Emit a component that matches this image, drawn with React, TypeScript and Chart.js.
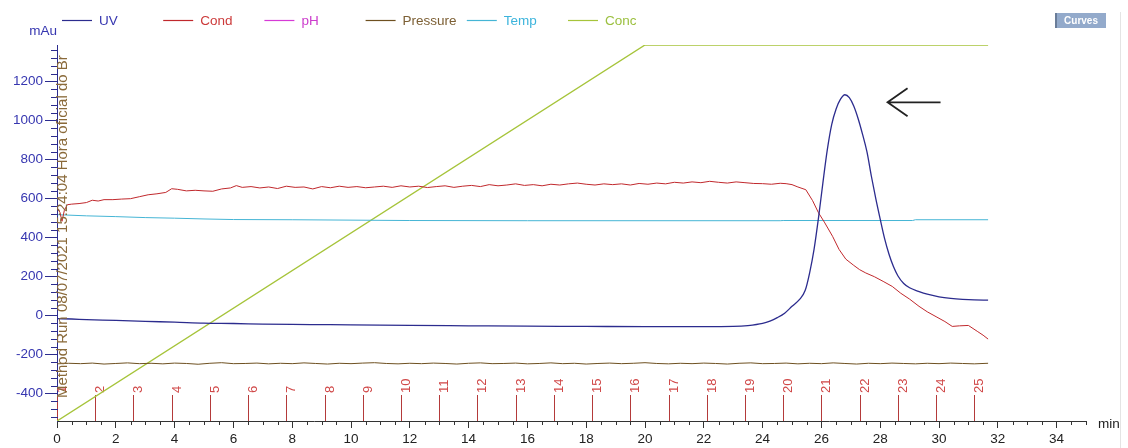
import React, { useEffect, useRef } from 'react';
import { Chart, registerables } from 'chart.js';

Chart.register(...registerables);

const FONT = "'Liberation Sans', Arial, sans-serif";

// ---- data (time in min, value in mAu-scale units) ----
const uvPoints: [number, number][] = [
  [0, -15], [0.5, -17], [1, -20], [2, -24], [3, -29], [4, -33], [5, -38], [6, -40],
  [7, -43], [8, -45], [9, -46], [10, -47], [12, -50], [14, -52], [16, -54], [18, -55],
  [20, -56], [22, -56], [23, -55], [23.5, -51], [24, -40], [24.25, -28], [24.5, -10],
  [24.75, 13], [25.0, 48], [25.25, 82], [25.45, 130], [25.6, 220], [25.75, 340],
  [25.9, 500], [26.05, 680], [26.2, 850], [26.35, 980], [26.5, 1060], [26.65, 1110],
  [26.8, 1133], [26.95, 1118], [27.1, 1075], [27.25, 1010], [27.4, 930], [27.55, 840],
  [27.7, 715], [27.85, 600], [28.0, 495], [28.15, 395], [28.3, 315], [28.45, 252],
  [28.6, 205], [28.8, 165], [29.0, 143], [29.3, 125], [29.6, 110], [30.0, 97],
  [30.4, 89], [30.8, 84], [31.2, 81], [31.67, 80],
];

const condPoints: [number, number][] = [
  [0, 554], [0.1, 530], [0.17, 484], [0.25, 540], [0.35, 569], [0.5, 572], [0.75, 575],
  [1.0, 580], [1.2, 592], [1.4, 588], [1.6, 595], [1.9, 595], [2.2, 598], [2.5, 600],
  [2.8, 610], [3.1, 620], [3.4, 625], [3.7, 632], [3.9, 651], [4.1, 648], [4.4, 640],
  [4.7, 643], [5.0, 640], [5.3, 638], [5.6, 650], [5.9, 655], [6.1, 667], [6.3, 658],
  [6.6, 662], [6.9, 655], [7.2, 660], [7.5, 652], [7.8, 664], [8.1, 658], [8.4, 660],
  [8.7, 650], [9.0, 662], [9.3, 656], [9.6, 664], [9.9, 658], [10.2, 662], [10.5, 656],
  [10.8, 660], [11.1, 664], [11.4, 658], [11.7, 666], [12.0, 660], [12.3, 664],
  [12.6, 657], [12.9, 662], [13.2, 666], [13.5, 658], [13.8, 664], [14.1, 668],
  [14.4, 662], [14.7, 672], [15.0, 666], [15.3, 670], [15.6, 676], [15.9, 668],
  [16.2, 672], [16.5, 666], [16.8, 674], [17.1, 670], [17.4, 676], [17.7, 680],
  [18.0, 674], [18.3, 670], [18.6, 676], [18.9, 672], [19.2, 676], [19.5, 670],
  [19.8, 678], [20.1, 674], [20.4, 680], [20.7, 676], [21.0, 684], [21.3, 680],
  [21.6, 686], [21.9, 682], [22.2, 689], [22.5, 684], [22.8, 680], [23.1, 686],
  [23.4, 682], [23.7, 678], [24.0, 677], [24.3, 674], [24.6, 679], [24.8, 677],
  [25.0, 672], [25.2, 660], [25.47, 646], [25.7, 590], [25.9, 528], [26.1, 480],
  [26.38, 407], [26.6, 340], [26.83, 290], [27.1, 258], [27.3, 236], [27.51, 219],
  [27.8, 200], [28.1, 176], [28.41, 150], [28.7, 115], [29.0, 85], [29.32, 48],
  [29.6, 20], [29.9, -5], [30.2, -30], [30.45, -55], [30.7, -52], [31.0, -50],
  [31.3, -80], [31.5, -100], [31.67, -120],
];

const phPoints: [number, number][] = [];

const pressurePoints: [number, number][] = [
  [0, -247], [0.4, -244], [0.8, -246], [1.2, -243], [1.6, -248], [2, -245], [2.4, -242],
  [2.8, -246], [3.2, -244], [3.6, -247], [4, -243], [4.4, -245], [4.8, -249], [5.2, -244],
  [5.6, -241], [6, -246], [6.4, -245], [6.8, -243], [7.2, -247], [7.6, -244], [8, -246],
  [8.4, -242], [8.8, -245], [9.2, -248], [9.6, -244], [10, -246], [10.4, -243], [10.8, -241],
  [11.2, -245], [11.6, -247], [12, -244], [12.4, -246], [12.8, -243], [13.2, -245],
  [13.6, -248], [14, -244], [14.4, -242], [14.8, -246], [15.2, -245], [15.6, -243],
  [16, -247], [16.4, -245], [16.8, -242], [17.2, -246], [17.6, -244], [18, -248],
  [18.4, -245], [18.8, -243], [19.2, -246], [19.6, -244], [20, -241], [20.4, -245],
  [20.8, -247], [21.2, -244], [21.6, -246], [22, -243], [22.4, -245], [22.8, -248],
  [23.2, -244], [23.6, -242], [24, -246], [24.4, -245], [24.8, -243], [25.2, -247],
  [25.6, -244], [26, -246], [26.4, -242], [26.8, -245], [27.2, -248], [27.6, -244],
  [28, -246], [28.4, -243], [28.8, -245], [29.2, -247], [29.6, -244], [30, -246],
  [30.4, -243], [30.8, -245], [31.2, -247], [31.67, -244],
];

const tempPoints: [number, number][] = [
  [0, 518], [1, 512], [2, 508], [3, 503], [4, 500], [5, 496], [6, 493], [8, 492],
  [10, 490], [12, 488], [16, 487], [20, 487], [24.6, 487], [24.7, 488], [29.1, 488],
  [29.2, 492], [31.67, 492],
];

// Conc in % (0-100) on its own hidden axis
const concPoints: [number, number][] = [[0, 0], [20, 100], [31.67, 100]];

const fractionTimes = [
  0, 1.3, 2.6, 3.9, 5.2, 6.5, 7.8, 9.1, 10.4, 11.7, 13.0, 14.3, 15.6, 16.9, 18.2,
  19.5, 20.8, 22.1, 23.4, 24.7, 26.0, 27.3, 28.6, 29.9, 31.2,
];
const fractionLabels = [
  '1', '2', '3', '4', '5', '6', '7', '8', '9', '10', '11', '12', '13', '14', '15',
  '16', '17', '18', '19', '20', '21', '22', '23', '24', '25',
];

const seriesNames = ['UV', 'Cond', 'pH', 'Pressure', 'Temp', 'Conc'];
const seriesColors = ['#2c2c8e', '#c0282c', '#d63ad6', '#6e5020', '#45b5d5', '#a6c43a'];
const legendTextColors = ['#3636b0', '#cc3a3a', '#cc3ccc', '#7d6035', '#3cb4dc', '#9cc040'];

const xRange = { min: 0, max: 35 };
const yRange = { min: -540, max: 1388 };
const arrowTip = { x: 28.25, y: 1094 };
const runText = 'Method Run 08/07/2021 15:24:04 Hora oficial do Br';

const toXY = (arr: [number, number][]) => arr.map(([x, y]) => ({ x, y }));

const decorPlugin = {
  id: 'decor',
  beforeDatasetsDraw(chart: any) {
    const { ctx, chartArea } = chart;
    const xs = chart.scales.x;
    ctx.save();
    ctx.font = `13px ${FONT}`;
    fractionTimes.forEach((t, i) => {
      const px = Math.round(xs.getPixelForValue(t)) + 0.5;
      ctx.strokeStyle = '#b43a3a';
      ctx.lineWidth = 1;
      ctx.beginPath();
      ctx.moveTo(px, chartArea.bottom);
      ctx.lineTo(px, chartArea.bottom - 26);
      ctx.stroke();
      ctx.save();
      ctx.translate(px + 5, chartArea.bottom - 28);
      ctx.rotate(-Math.PI / 2);
      ctx.textAlign = 'left';
      ctx.textBaseline = 'middle';
      ctx.fillStyle = '#d04848';
      ctx.fillText(fractionLabels[i], 0, 0);
      ctx.restore();
    });
    ctx.restore();
  },
  afterDraw(chart: any) {
    const { ctx, chartArea } = chart;
    const xs = chart.scales.x;
    const ys = chart.scales.y;
    ctx.save();

    // minor x ticks
    ctx.strokeStyle = '#333';
    ctx.lineWidth = 1;
    for (let v = xRange.min; v <= xRange.max + 1e-6; v += 0.5) {
      if (Math.abs(v / 2 - Math.round(v / 2)) < 1e-6) continue;
      const px = Math.round(xs.getPixelForValue(v)) + 0.5;
      ctx.beginPath();
      ctx.moveTo(px, chartArea.bottom);
      ctx.lineTo(px, chartArea.bottom + 4);
      ctx.stroke();
    }
    // minor y ticks
    ctx.strokeStyle = '#2c2c8e';
    for (let v = -520; v <= 1360; v += 40) {
      if (v % 200 === 0) continue;
      const py = Math.round(ys.getPixelForValue(v)) + 0.5;
      ctx.beginPath();
      ctx.moveTo(chartArea.left - 6, py);
      ctx.lineTo(chartArea.left + 1, py);
      ctx.stroke();
    }

    // legend
    const ds = chart.data.datasets;
    ctx.font = `13.5px ${FONT}`;
    ctx.textBaseline = 'middle';
    ctx.textAlign = 'left';
    ds.forEach((d: any, i: number) => {
      const lx = 62 + i * 101.2;
      const ly = 20.5;
      ctx.strokeStyle = d.borderColor;
      ctx.lineWidth = 1.2;
      ctx.beginPath();
      ctx.moveTo(lx, ly);
      ctx.lineTo(lx + 30, ly);
      ctx.stroke();
      ctx.fillStyle = legendTextColors[i];
      ctx.fillText(d.label, lx + 37, ly + 0.5);
    });

    // unit labels
    ctx.fillStyle = '#3636b0';
    ctx.textAlign = 'right';
    ctx.fillText('mAu', chartArea.left, 31);
    ctx.fillStyle = '#222';
    ctx.textAlign = 'left';
    ctx.fillText('min', chartArea.right + 12, chartArea.bottom + 3);

    // Curves button
    ctx.fillStyle = '#93aacb';
    ctx.fillRect(1055, 13, 51, 15);
    ctx.fillStyle = '#6a7d99';
    ctx.fillRect(1055, 13, 2, 15);
    ctx.fillStyle = '#ffffff';
    ctx.font = `bold 10px ${FONT}`;
    ctx.textAlign = 'center';
    ctx.fillText('Curves', 1081, 21);

    // faint panel edge
    ctx.strokeStyle = '#e4e4e4';
    ctx.lineWidth = 1;
    ctx.beginPath();
    ctx.moveTo(1120.5, 12);
    ctx.lineTo(1120.5, 448);
    ctx.stroke();

    // arrow pointing at peak
    const ax = xs.getPixelForValue(arrowTip.x);
    const ay = ys.getPixelForValue(arrowTip.y);
    ctx.strokeStyle = '#222';
    ctx.lineWidth = 1.8;
    ctx.beginPath();
    ctx.moveTo(ax + 53, ay);
    ctx.lineTo(ax, ay);
    ctx.moveTo(ax + 20, ay - 14);
    ctx.lineTo(ax, ay);
    ctx.lineTo(ax + 20, ay + 14);
    ctx.stroke();

    // rotated run text along the y axis
    ctx.save();
    ctx.beginPath();
    ctx.rect(0, 40, 1128, 408);
    ctx.clip();
    ctx.translate(chartArea.left + 10, chartArea.bottom - 23);
    ctx.rotate(-Math.PI / 2);
    ctx.font = `15px ${FONT}`;
    ctx.textAlign = 'left';
    ctx.textBaseline = 'alphabetic';
    ctx.fillStyle = '#8a6a3a';
    ctx.fillText(runText, 0, 0);
    ctx.restore();

    ctx.restore();
  },
};

export default function App() {
  const canvasRef = useRef<HTMLCanvasElement | null>(null);

  useEffect(() => {
    const canvas = canvasRef.current;
    if (!canvas) return;
    const seriesData = [uvPoints, condPoints, phPoints, pressurePoints, tempPoints, concPoints];
    const chart = new Chart(canvas, {
      type: 'line',
      data: {
        datasets: seriesNames.map((name, i) => ({
          label: name,
          data: toXY(seriesData[i]),
          borderColor: seriesColors[i],
          backgroundColor: seriesColors[i],
          borderWidth: name === 'Conc' ? 1.4 : name === 'UV' ? 1.3 : 1,
          pointRadius: 0,
          tension: 0,
          cubicInterpolationMode: name === 'UV' ? 'monotone' : 'default',
          yAxisID: name === 'Conc' ? 'y2' : 'y',
          fill: false,
        })),
      },
      options: {
        responsive: false,
        animation: false,
        devicePixelRatio: 1,
        parsing: true,
        layout: { padding: { top: 45, right: 42, left: 0, bottom: 0 } },
        plugins: { legend: { display: false }, tooltip: { enabled: false } },
        scales: {
          x: {
            type: 'linear',
            min: xRange.min,
            max: xRange.max,
            afterFit: (s: any) => { s.height = 27; },
            border: { color: '#333', width: 1 },
            grid: { display: true, drawOnChartArea: false, drawTicks: true, tickLength: 7, color: '#333' },
            ticks: {
              stepSize: 2,
              includeBounds: false,
              autoSkip: false,
              maxRotation: 0,
              color: '#222',
              padding: 3,
              font: { family: FONT, size: 13.5 },
              callback: (v: any) => String(v),
            },
          },
          y: {
            type: 'linear',
            min: yRange.min,
            max: yRange.max,
            afterFit: (s: any) => { s.width = 57; },
            border: { color: '#2c2c8e', width: 1 },
            grid: { display: true, drawOnChartArea: false, drawTicks: true, tickLength: 12, color: '#2c2c8e' },
            ticks: {
              stepSize: 200,
              includeBounds: false,
              autoSkip: false,
              color: '#3636b0',
              padding: 2,
              font: { family: FONT, size: 13.5 },
              callback: (v: any) => String(v),
            },
          },
          y2: { type: 'linear', display: false, min: 0, max: 100 },
        },
      } as any,
      plugins: [decorPlugin],
    });
    return () => chart.destroy();
  }, []);

  return (
    <div style={{ position: 'absolute', left: 0, top: 0, width: 1128, height: 448, background: '#fff' }}>
      <canvas ref={canvasRef} width={1128} height={448} style={{ display: 'block' }} />
    </div>
  );
}
